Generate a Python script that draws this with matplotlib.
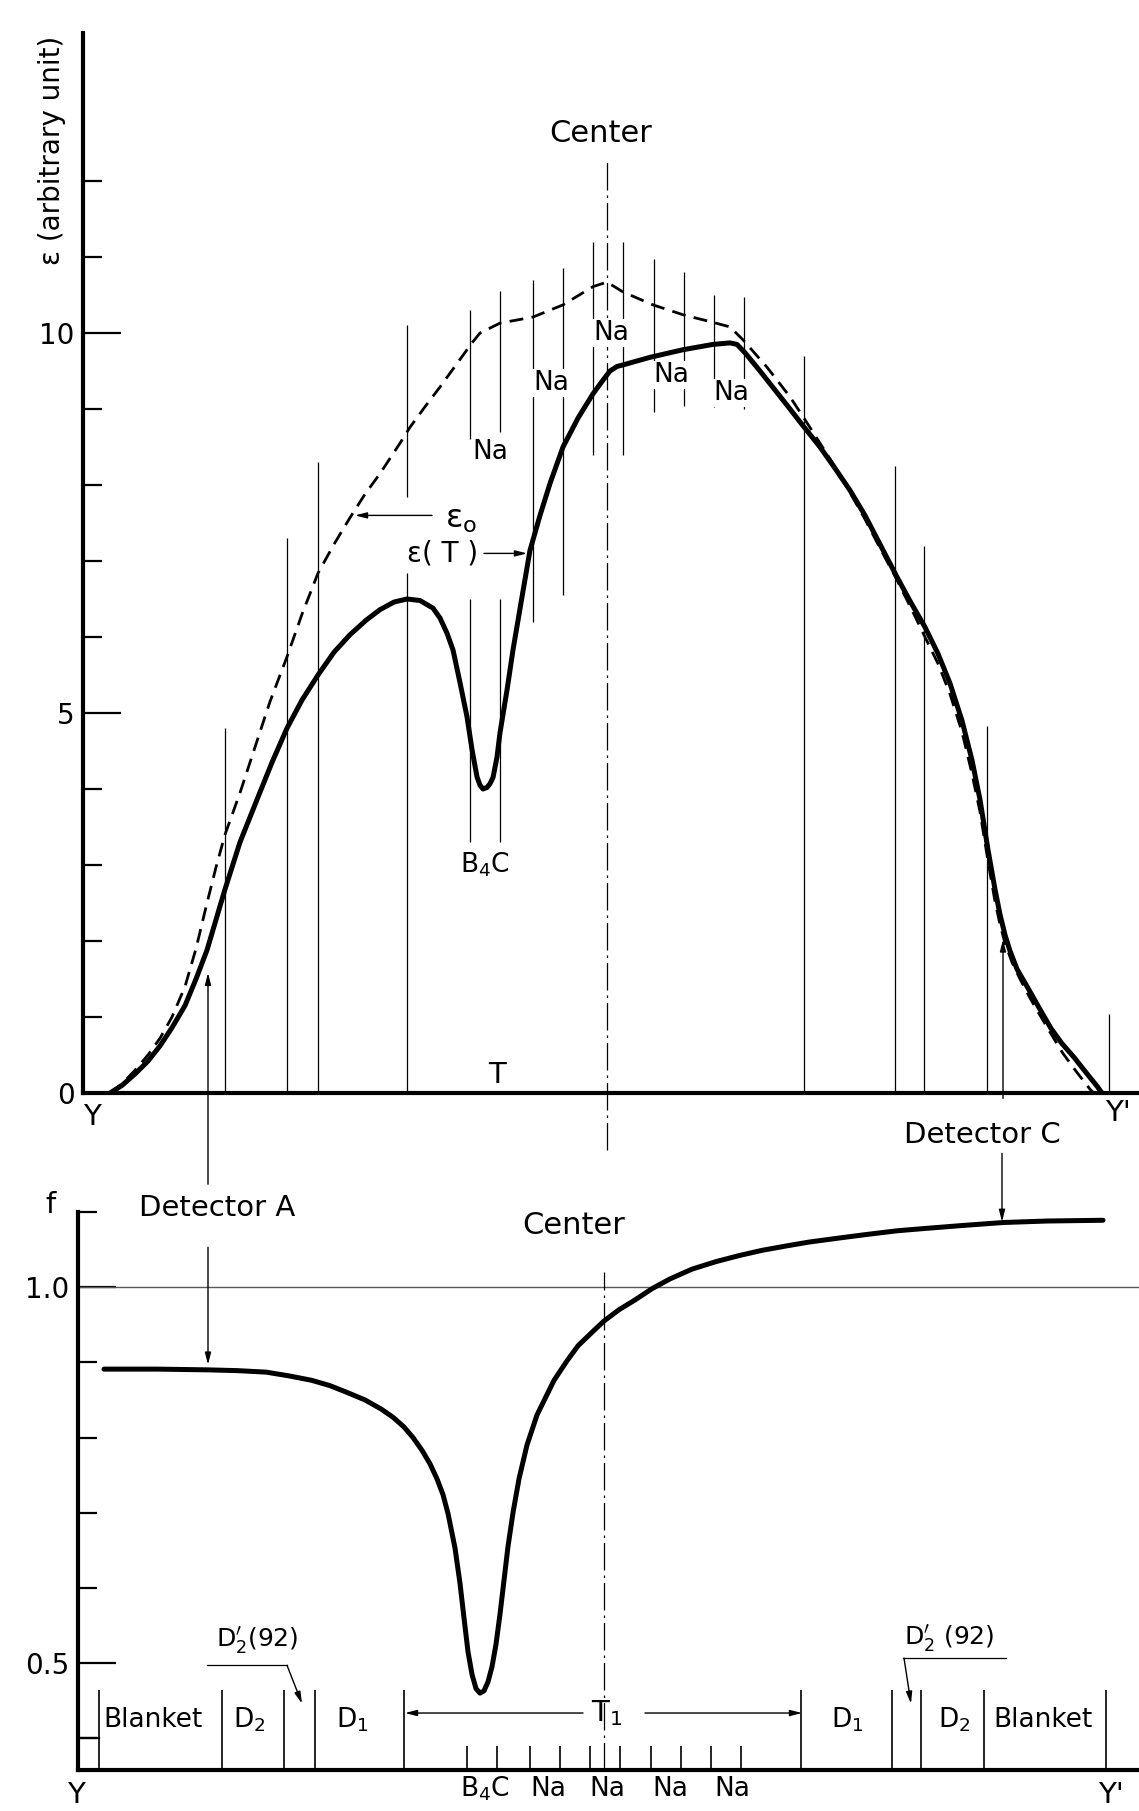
import matplotlib.pyplot as plt
import numpy as np

plt.rcParams['font.family'] = ['DejaVu Sans']
plt.rcParams['mathtext.fontset'] = 'dejavusans'

# ---- data -------------------------------------------------------------
# position along the core traverse Y -> Y' (drawing units)
eps_T_x = [110, 122, 135, 148, 160, 172, 185, 196, 207, 216, 225, 240, 257, 272,
           287, 302, 318, 334, 350, 366, 380, 394, 407, 420, 433, 440, 447, 453,
           460, 467, 472, 477, 480, 483, 487, 490, 493, 497, 500, 507, 513, 521,
           530, 540, 550, 563, 578, 593, 603, 610, 617, 623, 650, 683, 713, 730,
           737, 745, 760, 775, 790, 803, 820, 835, 850, 865, 880, 897, 911, 925,
           938, 950, 962, 972, 980, 988, 995, 1000, 1005, 1010, 1017, 1028, 1040,
           1051, 1062, 1074, 1086, 1097, 1102]
eps_T = [0.0, 0.1, 0.25, 0.42, 0.62, 0.86, 1.15, 1.5, 1.88, 2.28, 2.68, 3.3,
         3.86, 4.35, 4.8, 5.17, 5.5, 5.8, 6.03, 6.22, 6.36, 6.46, 6.5, 6.48,
         6.38, 6.25, 6.05, 5.83, 5.4, 4.95, 4.52, 4.16, 4.05, 4.0, 4.02, 4.07,
         4.15, 4.42, 4.74, 5.3, 5.83, 6.45, 7.14, 7.6, 8.02, 8.5, 8.88, 9.2,
         9.38, 9.5, 9.56, 9.58, 9.68, 9.78, 9.85, 9.87, 9.85, 9.74, 9.5, 9.25,
         9.0, 8.78, 8.5, 8.22, 7.93, 7.6, 7.22, 6.79, 6.45, 6.13, 5.78, 5.39,
         4.9, 4.38, 3.86, 3.2, 2.68, 2.35, 2.08, 1.87, 1.63, 1.38, 1.1, 0.85,
         0.65, 0.47, 0.27, 0.09, 0.0]

eps_0_x = [110, 122, 135, 148, 160, 172, 185, 196, 207, 216, 225, 240, 255, 270,
           287, 302, 318, 334, 350, 365, 380, 400, 410, 425, 440, 456, 472, 480,
           500, 533, 563, 593, 607, 623, 653, 683, 713, 730, 743, 767, 790, 803,
           820, 835, 850, 865, 880, 897, 911, 925, 938, 950, 962, 972, 980, 988,
           995, 1000, 1005, 1012, 1020, 1030, 1037, 1050, 1063, 1077, 1090, 1094]
eps_0 = [0.0, 0.12, 0.3, 0.5, 0.72, 1.0, 1.4, 1.9, 2.5, 2.97, 3.4, 3.95, 4.55,
         5.15, 5.74, 6.3, 6.84, 7.22, 7.57, 7.88, 8.15, 8.55, 8.76, 9.03, 9.29,
         9.58, 9.87, 10.0, 10.13, 10.21, 10.37, 10.61, 10.67, 10.54, 10.37,
         10.24, 10.14, 10.08, 9.91, 9.55, 9.16, 8.9, 8.55, 8.24, 7.9, 7.55,
         7.17, 6.75, 6.38, 6.0, 5.65, 5.25, 4.75, 4.2, 3.7, 3.05, 2.52, 2.22,
         1.97, 1.72, 1.5, 1.25, 1.09, 0.8, 0.52, 0.27, 0.05, 0.0]

f_x = [107, 160, 211, 240, 269, 292, 315, 333, 350, 368, 384, 396, 407, 416,
       425, 433, 440, 446, 451, 458, 463, 467, 471, 475, 479, 483, 487, 491,
       495, 499, 503, 507, 511, 516, 522, 530, 540, 557, 570, 581, 595, 607,
       622, 638, 655, 673, 695, 719, 742, 765, 790, 812, 840, 869, 900, 927,
       965, 1006, 1050, 1106]
f_val = [0.891, 0.891, 0.890, 0.889, 0.887, 0.882, 0.876, 0.869, 0.860, 0.850,
         0.838, 0.827, 0.814, 0.800, 0.783, 0.765, 0.745, 0.724, 0.699, 0.653,
         0.606, 0.560, 0.515, 0.485, 0.466, 0.460, 0.463, 0.475, 0.495, 0.525,
         0.565, 0.610, 0.655, 0.700, 0.745, 0.790, 0.830, 0.876, 0.902, 0.922,
         0.940, 0.955, 0.970, 0.983, 0.998, 1.011, 1.024, 1.034, 1.042, 1.049,
         1.055, 1.060, 1.065, 1.070, 1.075, 1.078, 1.082, 1.086, 1.088, 1.089]

# zone boundaries (D2 / D1 / test region / D1 / D2 / blanket)
bound_x = [225, 287, 318, 407, 804, 895, 924, 987, 1109]
bound_top = [4.8, 7.3, 8.3, 10.1, 9.7, 8.25, 7.2, 4.83, 1.04]

# fuel elements inside the test region
elem_x = [470, 500, 533, 563, 593, 623, 654, 684, 714, 744]
elem_top = [10.3, 10.55, 10.7, 10.85, 11.2, 11.2, 10.97, 10.8, 10.5, 10.47]
elem_bot = [8.6, 8.7, 6.2, 6.55, 8.4, 8.4, 8.96, 9.04, 9.03, 9.0]
b4c_x = [470, 500]
b4c_span = [3.3, 6.5]

na_labels_x = [490, 551, 611, 671, 731]
na_labels_y = [8.43, 9.34, 10.0, 9.45, 9.21]

center_x = 607
blanket_left = 102

zone_names = ['Blanket', r'D$_2$', r'D$_1$', r'D$_1$', r'D$_2$', 'Blanket']
zone_label_x = [156, 252, 355, 850, 957, 1046]
bottom_names = [r'B$_4$C', 'Na', 'Na', 'Na', 'Na']
bottom_x = [488, 551, 610, 673, 735]

# ---- figure -----------------------------------------------------------
W, H = 1139, 1811
fig = plt.figure(figsize=(W / 100, H / 100), dpi=100)


def fx(px):
    return px / W


def fy(py):
    return 1 - py / H


ax1 = fig.add_axes([fx(83), fy(1093), (1139 - 83) / W, (1093 - 33) / H])
ax1.set_xlim(83, 1139)
ax1.set_ylim(0, 1060 / 76)

ax2 = fig.add_axes([fx(78), fy(1770), (1139 - 78) / W, (1770 - 1212) / H])
ax2.set_xlim(81, 1142)
ax2.set_ylim(0.5 - 107 / 752, 1.0 + 75 / 752)

for ax in (ax1, ax2):
    ax.patch.set_alpha(0)
    for s in ('top', 'right'):
        ax.spines[s].set_visible(False)
    for s in ('left', 'bottom'):
        ax.spines[s].set_linewidth(3)
    ax.set_xticks([])
    ax.tick_params(axis='y', which='both', direction='in', width=1.6,
                   labelsize=20, pad=6)
    ax.tick_params(axis='y', which='major', length=27)
    ax.tick_params(axis='y', which='minor', length=14)

ax1.set_yticks([0, 5, 10])
ax1.set_yticklabels(['0', '5', '10'])
ax1.set_yticks([1, 2, 3, 4, 6, 7, 8, 9, 11, 12], minor=True)

ax2.set_yticks([0.5, 1.0])
ax2.set_yticklabels(['0.5', '1.0'])
ax2.set_yticks([0.4, 0.6, 0.7, 0.8, 0.9, 1.1], minor=True)

thin = dict(color='black', lw=0.9)

# ---- upper panel ------------------------------------------------------
ax1.vlines(bound_x[:3], 0, bound_top[:3], **thin)
ax1.vlines(bound_x[3], 0, 6.84, **thin)
ax1.vlines(bound_x[3], 7.84, bound_top[3], **thin)
ax1.vlines(bound_x[4:], 0, bound_top[4:], **thin)
ax1.vlines(elem_x, elem_bot, elem_top, **thin)
ax1.vlines(b4c_x, b4c_span[0], b4c_span[1], **thin)

ax1.plot([center_x, center_x], [-0.75, 12.3], color='black', lw=0.9,
         ls=(0, (22, 4, 2, 4)), clip_on=False)
ax1.text(center_x - 6, 12.63, 'Center', fontsize=22, ha='center', va='center')

ax1.plot(eps_0_x, eps_0, color='black', lw=2.0, ls=(0, (5, 3)))
ax1.plot(eps_T_x, eps_T, color='black', lw=3.6, solid_capstyle='round',
         solid_joinstyle='round')

for x, y in zip(na_labels_x, na_labels_y):
    ax1.text(x, y, 'Na', fontsize=19, ha='center', va='center',
             bbox=dict(fc='white', ec='none', pad=0.5))
ax1.text(485, 3.0, r'B$_4$C', fontsize=19, ha='center', va='center')

arrow = dict(arrowstyle='-|>,head_length=0.7,head_width=0.18', color='black',
             lw=1.0, shrinkA=0, shrinkB=0)
ax1.annotate('', xy=(355, 7.6), xytext=(432, 7.6), arrowprops=arrow)
ax1.text(461, 7.55, r'ε$_\mathregular{o}$', fontsize=23,
         ha='center', va='center')
ax1.text(443, 7.1, 'ε( T )', fontsize=20, ha='center', va='center')
ax1.annotate('', xy=(527, 7.1), xytext=(484, 7.1), arrowprops=arrow)
ax1.text(497, 0.05, 'T', fontsize=21, ha='center', va='bottom')

# detector arrows crossing between the panels
ax1.annotate('', xy=(208, 1.58), xytext=(208, -1.2), arrowprops=arrow,
             annotation_clip=False)
ax1.annotate('', xy=(1003, 2.02), xytext=(1003, -0.07), arrowprops=arrow,
             annotation_clip=False)

# ---- lower panel ------------------------------------------------------
ax2.axhline(1.0, color='0.35', lw=1.0)
ax2.plot(f_x, f_val, color='black', lw=3.6, solid_capstyle='round',
         solid_joinstyle='round')
ax2.plot([center_x, center_x], [0.358, 1.02], color='black', lw=0.9,
         ls=(0, (22, 4, 2, 4)))
ax2.text(577, 1.082, 'Center', fontsize=22, ha='center', va='center',
         clip_on=False)

lower_bounds = [blanket_left] + bound_x
ax2.vlines(lower_bounds, 0.358, 0.464, color='black', lw=1.2)
ax2.vlines(elem_x, 0.358, 0.39, color='black', lw=1.2)
ax2.plot([81, blanket_left], [0.4, 0.4], color='black', lw=1.6)

for name, x in zip(zone_names, zone_label_x):
    ax2.text(x, 0.424, name, fontsize=19, ha='center', va='center')

ax2.annotate('', xy=(408, 0.4335), xytext=(586, 0.4335), arrowprops=arrow)
ax2.annotate('', xy=(805, 0.4335), xytext=(648, 0.4335), arrowprops=arrow)
ax2.text(610, 0.4335, r'T$_1$', fontsize=21, ha='center', va='center')

# D2'(92) leaders
ax2.plot([210, 290], [0.497, 0.497], color='black', lw=0.9)
ax2.annotate('', xy=(305, 0.446), xytext=(290, 0.497), arrowprops=arrow)
ax2.text(260, 0.53, r"D$_2^{\prime}$(92)", fontsize=18, ha='center',
         va='center')
ax2.plot([906, 1009], [0.5066, 0.5066], color='black', lw=0.9)
ax2.annotate('', xy=(914, 0.446), xytext=(907, 0.5066), arrowprops=arrow)
ax2.text(952, 0.532, r"D$_2^{\prime}$ (92)", fontsize=18, ha='center',
         va='center')

for name, x in zip(bottom_names, bottom_x):
    ax2.text(x, 0.333, name, fontsize=19, ha='center', va='center',
             clip_on=False)

ax2.annotate('', xy=(211, 0.897), xytext=(211, 1.053), arrowprops=arrow,
             annotation_clip=False)
ax2.annotate('', xy=(1005, 1.087), xytext=(1005, 1.178), arrowprops=arrow,
             annotation_clip=False)

# ---- free labels ------------------------------------------------------
fig.text(fx(52), fy(150), 'ε (arbitrary unit)', fontsize=20,
         rotation=90, ha='center', va='center')
fig.text(fx(92), fy(1117), 'Y', fontsize=21, ha='center', va='center')
fig.text(fx(1118), fy(1113), "Y'", fontsize=21, ha='center', va='center')
fig.text(fx(76), fy(1795), 'Y', fontsize=21, ha='center', va='center')
fig.text(fx(1111), fy(1795), "Y'", fontsize=21, ha='center', va='center')
fig.text(fx(50), fy(1205), 'f', fontsize=21, ha='center', va='center')
fig.text(fx(217), fy(1208), 'Detector A', fontsize=21, ha='center',
         va='center')
fig.text(fx(982), fy(1135), 'Detector C', fontsize=21, ha='center',
         va='center')

fig.savefig('out.png', dpi=100)
